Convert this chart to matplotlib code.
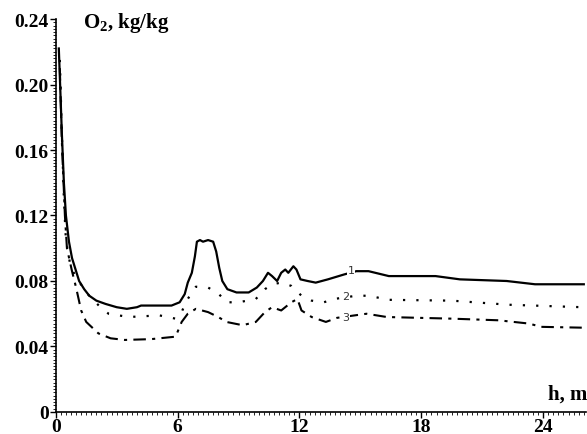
import numpy as np
import matplotlib.pyplot as plt
from matplotlib.ticker import MultipleLocator, FixedLocator

plt.rcParams['font.family'] = 'Liberation Serif'
plt.rcParams['mathtext.fontset'] = 'custom'
plt.rcParams['mathtext.bf'] = 'Liberation Serif:bold'
plt.rcParams['mathtext.rm'] = 'Liberation Serif:bold'

# curve 1 (solid)
h1 = [0.15, 0.2, 0.3, 0.4, 0.5, 0.65, 0.8, 1.0, 1.15, 1.4, 1.65, 2.0, 2.45, 3.0, 3.5,
      4.0, 4.2, 5.0, 5.7, 6.1, 6.35, 6.5, 6.7, 6.85, 6.95, 7.1, 7.25, 7.5, 7.75, 7.9,
      8.05, 8.2, 8.45, 8.9, 9.5, 9.9, 10.2, 10.45, 10.65, 10.9, 11.1, 11.3, 11.45, 11.7,
      11.85, 12.05, 12.4, 12.8, 13.4, 14.2, 14.8, 15.4, 15.9, 16.4, 18.7, 19.3, 19.9,
      22.2, 22.9, 23.6, 26.0]
o1 = [0.222, 0.205, 0.17, 0.14, 0.12, 0.104, 0.094, 0.086, 0.080, 0.075, 0.071, 0.068,
      0.066, 0.064, 0.063, 0.064, 0.065, 0.065, 0.065, 0.067, 0.072, 0.079, 0.085, 0.095,
      0.104, 0.105, 0.104, 0.105, 0.104, 0.098, 0.088, 0.080, 0.075, 0.073, 0.073, 0.076,
      0.080, 0.085, 0.083, 0.080, 0.085, 0.087, 0.085, 0.089, 0.087, 0.081, 0.080, 0.079,
      0.081, 0.084, 0.086, 0.086, 0.0845, 0.083, 0.083, 0.082, 0.081, 0.080, 0.079, 0.078,
      0.078]

# curve 2 (dotted)
h2 = [0.2, 0.3, 0.4, 0.5, 0.74, 1.13, 1.5, 1.8, 2.2, 2.6, 3.6, 5.1, 5.9, 6.2, 6.4, 6.7,
      6.9, 7.5, 8.0, 8.4, 9.0, 9.85, 10.3, 10.65, 11.1, 11.6, 12.1, 12.6, 13.2, 13.7,
      14.8, 15.4, 16.4, 19.5, 22.3, 25.9]
o2 = [0.215, 0.17, 0.13, 0.105, 0.088, 0.080, 0.073, 0.069, 0.064, 0.060, 0.058, 0.059,
      0.057, 0.061, 0.067, 0.073, 0.0765, 0.076, 0.0725, 0.067, 0.067, 0.069, 0.075,
      0.078, 0.079, 0.077, 0.071, 0.068, 0.067, 0.069, 0.071, 0.071, 0.0685, 0.068,
      0.0655, 0.064]

# curve 3 (dash-dot)
h3 = [0.2, 0.3, 0.45, 0.55, 0.8, 1.0, 1.25, 1.5, 2.1, 2.7, 3.4, 4.7, 5.9, 6.2, 6.5, 6.9,
      7.5, 8.0, 8.4, 9.2, 9.85, 10.3, 10.65, 11.1, 11.6, 11.9, 12.1, 12.6, 13.3, 13.85,
      15.3, 16.3, 17.9, 19.5, 21.8, 23.3, 23.9, 25.9]
o3 = [0.21, 0.165, 0.12, 0.10, 0.086, 0.076, 0.062, 0.055, 0.048, 0.045, 0.044, 0.0445,
      0.046, 0.055, 0.060, 0.063, 0.061, 0.058, 0.055, 0.053, 0.055, 0.061, 0.064, 0.062,
      0.067, 0.069, 0.062, 0.058, 0.055, 0.0575, 0.060, 0.058, 0.0575, 0.057, 0.056,
      0.054, 0.052, 0.0515]

x_ticks = [0, 6, 12, 18, 24]
y_ticks = [0, 0.04, 0.08, 0.12, 0.16, 0.20, 0.24]
y_labels = ['0', '0.04', '0.08', '0.12', '0.16', '0.20', '0.24']

fig = plt.figure(figsize=(5.87, 4.35), dpi=100)
ax = fig.add_axes([0.095, 0.0506, 0.903, 0.9034])

ax.plot(h1, o1, color='black', lw=1.6, solid_joinstyle='round')
ax.plot(h2, o2, color='black', lw=1.6, linestyle=(0, (1, 5)))
ax.plot(h3, o3, color='black', lw=1.5, linestyle=(0, (6, 3, 1.5, 3)))

# curve numbers
for lab, xx, yy in [('1', 14.55, 0.0865), ('2', 14.3, 0.071), ('3', 14.3, 0.058)]:
    ax.text(xx, yy, lab, fontsize=8, family='DejaVu Sans', color='#333333',
            ha='center', va='center',
            bbox=dict(facecolor='white', edgecolor='none', pad=0.5))

ax.set_xlim(0, 26.1)
ax.set_ylim(0, 0.24)
ax.spines['top'].set_visible(False)
ax.spines['right'].set_visible(False)
ax.spines['left'].set_linewidth(1.2)
ax.spines['bottom'].set_linewidth(1.2)

ax.xaxis.set_major_locator(FixedLocator(x_ticks))
ax.xaxis.set_minor_locator(MultipleLocator(0.25))
ax.yaxis.set_major_locator(FixedLocator(y_ticks))
ax.yaxis.set_minor_locator(MultipleLocator(0.002))
ax.set_yticklabels(y_labels)
ax.tick_params(which='major', length=4, width=1, labelsize=14, pad=1)
ax.tick_params(axis='x', which='major', pad=0)
ax.tick_params(which='minor', length=2, width=0.6)
for t in ax.get_xticklabels() + ax.get_yticklabels():
    t.set_fontweight('bold')

fig.text(0.141, 0.948, r'$\mathbf{O_2}$, kg/kg', fontsize=15, fontweight='bold',
         ha='left', va='center')
fig.text(1.0, 0.092, 'h, m', fontsize=15, fontweight='bold', ha='right', va='center')

fig.savefig('out.png', dpi=100)
